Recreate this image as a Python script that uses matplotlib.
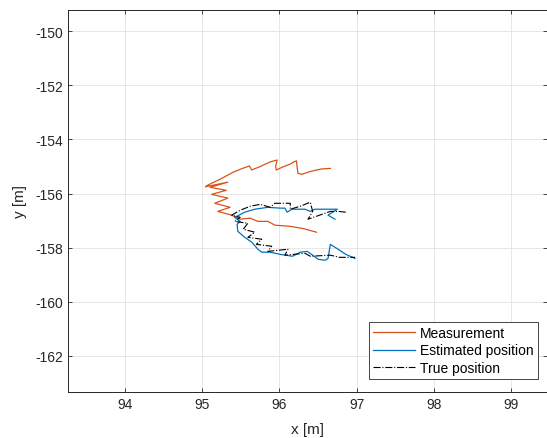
import matplotlib
matplotlib.use("Agg")
import matplotlib.pyplot as plt

plt.rcParams['font.family'] = ['Liberation Sans', 'DejaVu Sans']
plt.rcParams['axes.unicode_minus'] = False

# Measurement (noisy)
meas_x = [96.66, 96.55, 96.48, 96.38, 96.29, 96.24, 96.23, 96.22, 96.18, 96.14,
          96.04, 95.96, 95.95, 95.97, 95.93, 95.88, 95.75, 95.64, 95.61, 95.52,
          95.40, 95.23, 95.07, 95.04, 95.33, 95.10, 95.31, 95.12, 95.33,
          95.16, 95.36, 95.20, 95.38, 95.49, 95.62, 95.72, 95.85, 95.94, 96.13,
          96.30, 96.48]
meas_y = [-155.07, -155.09, -155.13, -155.20, -155.29, -155.25, -155.05, -154.79, -154.84, -154.91,
          -155.02, -155.13, -155.00, -154.76, -154.79, -154.83, -155.00, -155.13, -154.98, -155.07,
          -155.21, -155.47, -155.69, -155.75, -155.58, -155.77, -155.88, -156.03, -156.17,
          -156.36, -156.51, -156.66, -156.80, -156.95, -156.91, -157.03, -157.03, -157.17, -157.21,
          -157.29, -157.43]

# Estimated position
est_x = [96.72, 96.63, 96.75, 96.59, 96.46, 96.40, 96.33, 96.16, 96.10, 96.07,
         96.01, 95.85, 95.68, 95.55, 95.42, 95.49, 95.45, 95.46, 95.55, 95.64,
         95.72, 95.77, 95.88, 96.01, 96.17, 96.27, 96.36, 96.43, 96.50, 96.59,
         96.63, 96.66, 96.76, 96.86, 96.98]
est_y = [-156.95, -156.80, -156.58, -156.58, -156.58, -156.66, -156.58, -156.58, -156.69, -156.54,
         -156.54, -156.51, -156.58, -156.69, -156.88, -157.03, -157.14, -157.40, -157.62, -157.80,
         -158.06, -158.17, -158.17, -158.25, -158.32, -158.17, -158.14, -158.28, -158.43, -158.47,
         -158.40, -157.88, -158.06, -158.25, -158.40]

# True position
true_x = [96.86, 96.76, 96.66, 96.55, 96.37, 96.43, 96.40, 96.27, 96.14, 96.14,
          96.01, 95.94, 95.88, 95.75, 95.62, 95.49, 95.38, 95.49, 95.42, 95.59,
          95.53, 95.68, 95.59, 95.77, 95.70, 95.90, 95.85, 96.11, 96.07, 96.33,
          96.40, 96.66, 96.78, 96.98]
true_y = [-156.69, -156.66, -156.66, -156.77, -156.95, -156.66, -156.32, -156.47, -156.58, -156.36,
          -156.36, -156.36, -156.51, -156.40, -156.47, -156.62, -156.80, -156.88, -157.03, -157.10,
          -157.32, -157.43, -157.62, -157.69, -157.88, -157.95, -158.14, -158.06, -158.28, -158.21,
          -158.32, -158.28, -158.36, -158.36]

xticks = [94, 95, 96, 97, 98, 99]
yticks = [-162, -160, -158, -156, -154, -152, -150]

fig = plt.figure(figsize=(5.47, 4.39), dpi=100)
ax = fig.add_axes([68 / 547, 46.3 / 439, 479 / 547, 382 / 439])

ax.plot(meas_x, meas_y, color='#D95319', lw=0.9, label='Measurement')
ax.plot(est_x, est_y, color='#0072BD', lw=0.9, label='Estimated position')
ax.plot(true_x, true_y, color='black', lw=0.8, ls='-.', label='True position')

ax.set_xlim(93.257, 99.47)
ax.set_ylim(-163.33, -149.2)
ax.set_xticks(xticks)
ax.set_yticks(yticks)
ax.grid(True, color='#e3e3e3', lw=0.6)
ax.set_axisbelow(True)
ax.tick_params(direction='in', length=3, width=0.6, color='#262626',
               top=True, right=True, labelsize=10, labelcolor='#262626')
for side in ['left', 'bottom', 'top']:
    ax.spines[side].set_color('#262626')
    ax.spines[side].set_linewidth(0.7)
ax.spines['right'].set_visible(False)

ax.set_xlabel('x [m]', fontsize=11, color='#262626', labelpad=8)
ax.set_ylabel('y [m]', fontsize=11, color='#262626', labelpad=6)

leg = ax.legend(loc='lower right', bbox_to_anchor=(0.981, 0.033), fontsize=10,
                fancybox=False, framealpha=1, edgecolor='#262626',
                handlelength=3.0, borderpad=0.3, labelspacing=0.25,
                handletextpad=0.4, borderaxespad=0)
leg.get_frame().set_linewidth(0.6)

fig.savefig('out.png', dpi=100)
